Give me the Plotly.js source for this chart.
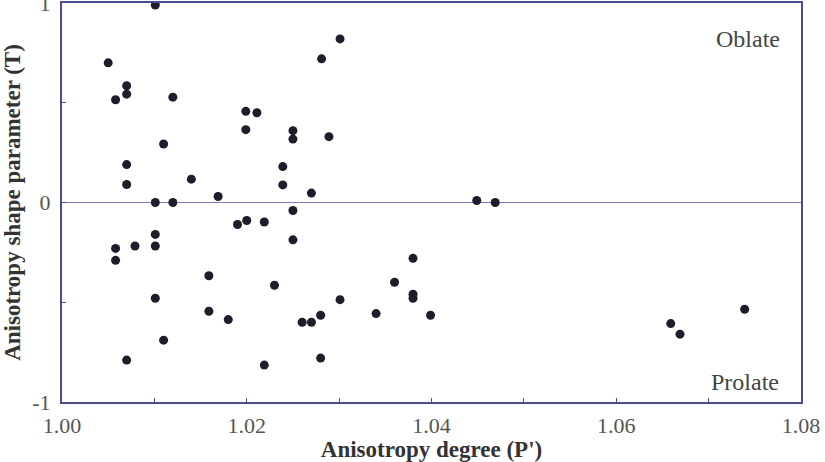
<!DOCTYPE html>
<html>
<head>
<meta charset="utf-8">
<script src="https://cdn.plot.ly/plotly-3.0.1.min.js"></script>
<style>html,body{margin:0;padding:0;background:#fff;}#chart{width:825px;height:462px;}</style>
</head>
<body>
<div id="chart"></div>
<script>
// Anisotropy degree (P')
const degreeP = [
  1.0050, 1.0101, 1.0058, 1.0070, 1.0070, 1.0120, 1.0110, 1.0070, 1.0070, 1.0140,
  1.0169, 1.0101, 1.0120, 1.0199, 1.0211, 1.0199, 1.0239, 1.0239, 1.0190, 1.0200,
  1.0219, 1.0250, 1.0250, 1.0250, 1.0270, 1.0281, 1.0301, 1.0289, 1.0449, 1.0469,
  1.0058, 1.0058, 1.0079, 1.0101, 1.0101, 1.0159, 1.0230, 1.0101, 1.0159, 1.0180,
  1.0110, 1.0070, 1.0219, 1.0250, 1.0380, 1.0360, 1.0380, 1.0380, 1.0301, 1.0340,
  1.0399, 1.0280, 1.0260, 1.0270, 1.0280, 1.0659, 1.0669, 1.0739
];
// Anisotropy shape parameter (T)
const shapeT = [
  0.70, 0.99, 0.515, 0.585, 0.543, 0.528, 0.293, 0.19, 0.09, 0.117,
  0.03, 0.00, 0.00, 0.457, 0.45, 0.365, 0.18, 0.088, -0.11, -0.09,
  -0.098, 0.36, 0.318, -0.04, 0.047, 0.72, 0.82, 0.33, 0.01, 0.00,
  -0.23, -0.29, -0.218, -0.16, -0.218, -0.367, -0.415, -0.48, -0.545, -0.587,
  -0.69, -0.79, -0.815, -0.187, -0.28, -0.40, -0.46, -0.48, -0.487, -0.557,
  -0.565, -0.565, -0.60, -0.60, -0.78, -0.607, -0.66, -0.535
];
const xTickVals = [1.00, 1.01, 1.02, 1.03, 1.04, 1.05, 1.06, 1.07, 1.08];
const xTickText = ['1.00', '', '1.02', '', '1.04', '', '1.06', '', '1.08'];
const yTickVals = [-1, -0.5, 0, 0.5, 1];
const yTickText = ['-1', '', '0', '', '1'];
const zoneLabels = ['Oblate', 'Prolate'];

const axisColor = '#4b4b92';
const serif = 'Liberation Serif';

const data = [{
  type: 'scatter',
  mode: 'markers',
  x: degreeP,
  y: shapeT,
  marker: {size: 9, color: '#1d1d2b', line: {width: 0}},
  hoverinfo: 'x+y',
  showlegend: false
}];

const layout = {
  width: 825,
  height: 462,
  margin: {l: 62, r: 24, t: 3, b: 60},
  paper_bgcolor: '#ffffff',
  plot_bgcolor: '#ffffff',
  font: {family: serif, size: 20, color: '#444'},
  xaxis: {
    range: [1.00, 1.08],
    tickmode: 'array',
    tickvals: xTickVals,
    ticktext: xTickText,
    ticks: 'inside',
    ticklen: 4,
    tickcolor: axisColor,
    showline: true,
    linecolor: axisColor,
    linewidth: 2,
    mirror: true,
    showgrid: false,
    zeroline: false,
    ticklabelstandoff: 3,
    tickfont: {family: serif, size: 22, color: '#555'},
    title: {text: "Anisotropy degree (P')", font: {family: serif, size: 23, color: '#333', weight: 'bold'}, standoff: 4}
  },
  yaxis: {
    range: [-1, 1],
    tickmode: 'array',
    tickvals: yTickVals,
    ticktext: yTickText,
    ticks: 'inside',
    ticklen: 4,
    tickcolor: axisColor,
    showline: true,
    linecolor: axisColor,
    linewidth: 2,
    mirror: true,
    showgrid: false,
    zeroline: true,
    zerolinecolor: '#7a7abf',
    zerolinewidth: 1.5,
    ticklabelstandoff: 5,
    ticklabeloverflow: 'allow',
    tickfont: {family: serif, size: 22, color: '#555'},
    title: {text: 'Anisotropy shape parameter (T)', font: {family: serif, size: 23, color: '#333', weight: 'bold'}, standoff: 7}
  },
  annotations: [
    {x: 1.0743, y: 0.82, xref: 'x', yref: 'y', text: zoneLabels[0], showarrow: false,
     font: {family: serif, size: 24, color: '#444'}},
    {x: 1.0739, y: -0.9, xref: 'x', yref: 'y', text: zoneLabels[1], showarrow: false,
     font: {family: serif, size: 24, color: '#444'}}
  ]
};

Plotly.newPlot('chart', data, layout, {displayModeBar: false, staticPlot: true});
</script>
</body>
</html>
